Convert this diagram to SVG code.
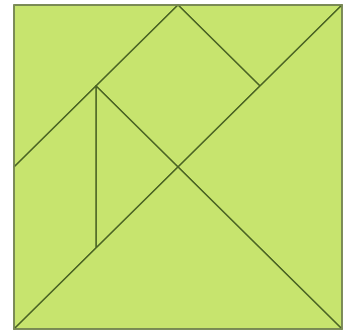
<svg xmlns="http://www.w3.org/2000/svg" width="358" height="331" viewBox="0 0 358 331">
<style>
.p{fill:#c7e46e;stroke:#4b6424;stroke-width:1.4;stroke-linejoin:round}
</style>
<rect width="358" height="331" fill="#ffffff"/>
<g id="tri-top-left"><polygon class="p" points="14,5 178,5 14,167"/></g>
<g id="tri-top-right"><polygon class="p" points="178,5 342,5 260,86"/></g>
<g id="square"><polygon class="p" points="96,86 178,5 260,86 178,167"/></g>
<g id="tri-small"><polygon class="p" points="96,86 178,167 96,248"/></g>
<g id="parallelogram"><polygon class="p" points="14,167 96,86 96,248 14,329"/></g>
<g id="tri-right"><polygon class="p" points="342,5 342,329 178,167"/></g>
<g id="tri-bottom"><polygon class="p" points="14,329 342,329 178,167"/></g>
<g id="border"><rect x="14" y="5" width="328" height="324" fill="none" stroke="#7d8c5a" stroke-width="1.6"/></g>
</svg>
